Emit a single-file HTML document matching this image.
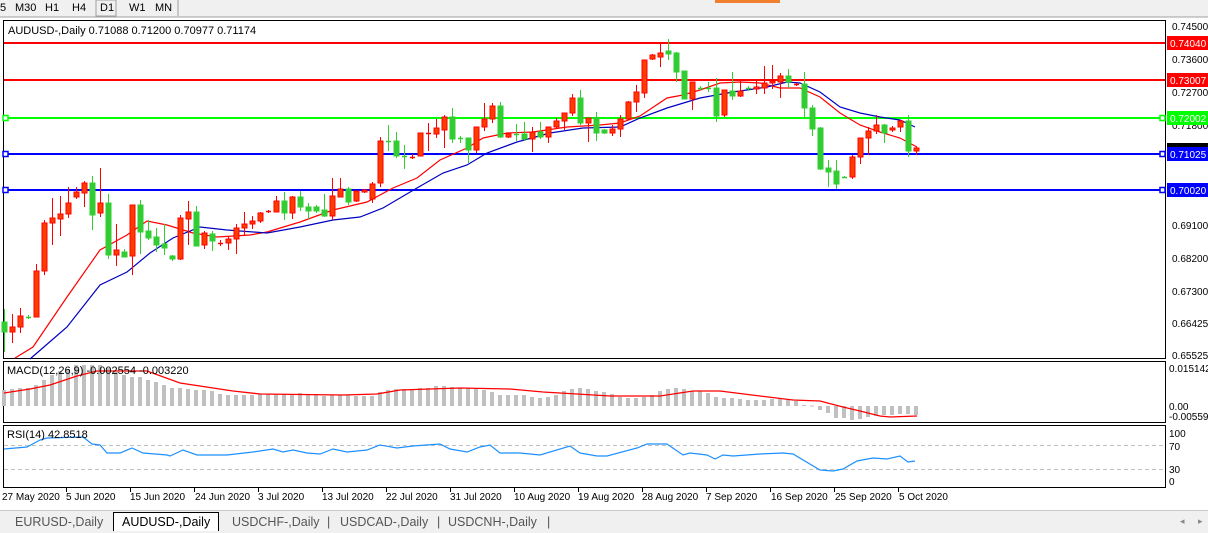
<!DOCTYPE html>
<html><head><meta charset="utf-8"><style>
html,body{margin:0;padding:0;background:#fff;width:1208px;height:533px;overflow:hidden;font-family:"Liberation Sans",Tahoma,sans-serif}
svg{display:block}
</style></head><body>
<svg id="s" width="1208" height="533" xmlns="http://www.w3.org/2000/svg" font-family="Liberation Sans, sans-serif">
<rect x="0" y="0" width="1208" height="17" fill="#f0f0f0"/>
<line x1="0" y1="17" x2="1208" y2="17" stroke="#a0a0a0"/>
<g font-size="11" fill="#000">
<text x="0" y="11">5</text><text x="15" y="11">M30</text><text x="45" y="11">H1</text><text x="72" y="11">H4</text>
<rect x="96" y="0" width="20" height="16" fill="none" stroke="#a0a0a0"/><text x="100" y="11">D1</text><text x="129" y="11">W1</text><text x="155" y="11">MN</text>
<line x1="178" y1="0" x2="178" y2="16" stroke="#a0a0a0"/>
</g>
<rect x="715" y="0" width="65" height="3" fill="#f08030"/>
<rect x="3.5" y="20.5" width="1162" height="338" fill="#fff" stroke="#000"/>
<rect x="3.5" y="361.5" width="1162" height="61" fill="#fff" stroke="#000"/>
<rect x="3.5" y="425.5" width="1162" height="62" fill="#fff" stroke="#000"/>
<g id="g"></g>
<text x="8" y="34" font-size="11">AUDUSD-,Daily  0.71088 0.71200 0.70977 0.71174</text>
<text x="7" y="374" font-size="11">MACD(12,26,9) -0.002554 -0.003220</text>
<text x="7" y="438" font-size="11">RSI(14) 42.8518</text>
<g font-size="10" fill="#000" id="ax">
<text x="1172" y="30">0.74500</text><text x="1172" y="63">0.73600</text><text x="1172" y="96">0.72700</text>
<text x="1172" y="129">0.71800</text><text x="1172" y="229">0.69100</text><text x="1172" y="262">0.68200</text>
<text x="1172" y="295">0.67300</text><text x="1172" y="327">0.66425</text><text x="1172" y="359">0.65525</text>
<text x="1169" y="372">0.015142</text><text x="1169" y="410">0.00</text><text x="1169" y="420">-0.005595</text>
<text x="1169" y="437">100</text><text x="1169" y="450">70</text><text x="1169" y="473">30</text><text x="1169" y="485">0</text>
</g>
<g font-size="10" fill="#fff">
<rect x="1167" y="143" width="41" height="8" fill="#000"/>
<rect x="1167" y="36" width="41" height="14" fill="#ff0000"/><text x="1170" y="47">0.74040</text>
<rect x="1167" y="73" width="41" height="14" fill="#ff0000"/><text x="1170" y="84">0.73007</text>
<rect x="1167" y="111" width="41" height="14" fill="#00ff00"/><text x="1170" y="122">0.72002</text>
<rect x="1167" y="147" width="41" height="14" fill="#0000ff"/><text x="1170" y="158">0.71025</text>
<rect x="1167" y="183" width="41" height="14" fill="#0000ff"/><text x="1170" y="194">0.70020</text>
</g>
<g font-size="10" fill="#000">
<text x="2" y="500">27 May 2020</text><text x="66" y="500">5 Jun 2020</text><text x="130" y="500">15 Jun 2020</text>
<text x="195" y="500">24 Jun 2020</text><text x="258" y="500">3 Jul 2020</text><text x="322" y="500">13 Jul 2020</text>
<text x="386" y="500">22 Jul 2020</text><text x="450" y="500">31 Jul 2020</text><text x="514" y="500">10 Aug 2020</text>
<text x="578" y="500">19 Aug 2020</text><text x="642" y="500">28 Aug 2020</text><text x="706" y="500">7 Sep 2020</text>
<text x="771" y="500">16 Sep 2020</text><text x="835" y="500">25 Sep 2020</text><text x="899" y="500">5 Oct 2020</text>
</g>
<rect x="0" y="510" width="1208" height="23" fill="#f0f0f0"/>
<line x1="0" y1="510.5" x2="1208" y2="510.5" stroke="#c8c8c8"/>
<rect x="113" y="512" width="106" height="19" fill="#fff"/>
<path d="M113.5 531V512.5H218.5V531" fill="none" stroke="#000"/>
<g font-size="12.5" fill="#555">
<text x="15" y="526">EURUSD-,Daily</text><text x="232" y="526">USDCHF-,Daily</text>
<text x="327" y="526">|</text><text x="340" y="526">USDCAD-,Daily</text><text x="437" y="526">|</text>
<text x="448" y="526">USDCNH-,Daily</text><text x="547" y="526">|</text>
</g>
<text x="122" y="526" font-size="12.5" fill="#000">AUDUSD-,Daily</text>
<text x="1180" y="524" font-size="9" fill="#888">◂</text><text x="1198" y="524" font-size="9" fill="#888">▸</text>
</svg>
<script>
var g=document.getElementById('g'),h='';
function L(x1,y1,x2,y2,c,w,d){h+='<line x1="'+x1+'" y1="'+y1+'" x2="'+x2+'" y2="'+y2+'" stroke="'+c+'" stroke-width="'+w+'"'+(d?' stroke-dasharray="'+d+'"':'')+'/>';}
L(4,445.5,1165,445.5,'#c0c0c0',1,'4,3');L(4,469.5,1165,469.5,'#c0c0c0',1,'4,3');
var mh=[390,389,388,388,385,380,375,371,369,365,365,365,365,368,372,375,377,377,380,382,385,388,388,389,390,390,391,394,395,395,395,395,394,394,394,394,394,393,394,394,396,395,395,395,396,396,396,392,390,389,389,390,388,388,386,386,387,388,388,389,390,392,395,395,395,395,397,398,397,395,391,389,388,389,391,392,394,397,398,398,397,395,391,389,388,389,391,391,393,397,398,398,399,400,400,400,399,399,400,401,405,405.5,410,413,418,418,420,419,417,416,415,415,414,414,415];
for(var i=0;i<mh.length;i++){var x=4+8*i,t=Math.min(mh[i],406),b=Math.max(mh[i],406);h+='<rect x="'+(x-2)+'" y="'+t+'" width="4" height="'+Math.max(b-t,1)+'" fill="#c0c0c0"/>';}
function P(pts,c,w){h+='<polyline fill="none" stroke="'+c+'" stroke-width="'+w+'" points="'+pts+'"/>';}
P('4,393 30,389 50,385 77,376 97,371 147,371 180,383 233,391 260,394 343,395 377,394 400,390 460,388 510,389 543,392 577,394 610,396 660,396 693,391 720,391 760,396 793,400 820,401 843,407 860,411 880,416 890,417 917,416','#ff0000',1.3);
P('4,449 27,447 40,440 47,438 83,437 92,444 100,445 107,453 120,453 132,448 143,453 167,455 170,456 183,450 197,455 227,455 253,452 273,449 283,452 293,450 307,453 320,454 333,449 347,452 367,450 380,445 397,448 413,446 440,444 450,449 467,452 480,447 490,445 500,453 520,453 540,455 570,446 580,453 597,456 607,456 637,448 647,444 667,444 683,455 690,453 707,455 715,459 723,455 733,456 760,454 783,453 793,454 820,470 833,471 843,469 857,461 873,458 887,459 900,456 908,462 915,461','#1e90ff',1.2);
L(4,43,1165,43,'#ff0000',2);L(4,80,1165,80,'#ff0000',2);L(4,118,1165,118,'#00ff00',2);L(4,154,1165,154,'#0000ff',2);L(4,190,1165,190,'#0000ff',2);
[[118,'#00ff00'],[154,'#0000ff'],[190,'#0000ff']].forEach(function(a){h+='<rect x="3" y="'+(a[0]-2.5)+'" width="5" height="5" fill="#fff" stroke="'+a[1]+'" stroke-width="1.5"/><rect x="1160" y="'+(a[0]-2.5)+'" width="5" height="5" fill="#fff" stroke="'+a[1]+'" stroke-width="1.5"/>';});
P('15,358 33,347 67,297 100,250 127,235 147,221 167,225 193,233 217,237 250,235 267,232 300,222 333,210 367,202 393,188 417,178 440,160 467,148 483,138 507,133 533,132 567,127 600,125 620,123 640,116 667,98 683,95 700,90 720,83 740,82 760,83 780,88 800,88 820,97 840,113 860,125 880,132 900,138 917,147','#ff0000',1.2);
P('30,359 67,327 100,285 127,272 150,253 173,238 200,227 227,230 267,233 300,227 333,220 360,217 383,208 417,188 443,173 467,165 487,153 517,142 550,133 583,128 620,127 640,118 667,108 700,98 733,92 767,87 787,82 800,83 820,92 840,107 860,113 880,117 900,120 915,127','#0000c0',1.2);
var C=[[0,322,332,309,352],[1,327,332,314,343],[1,316,327,308,333],[0,317,317,315,319],[1,271,317,264,317],[1,223,271,220,275],[1,218,223,198,245],[1,214,219,196,236],[1,203,214,187,218],[1,192,197,187,199],[1,183,193,181,207],[0,183,215,176,230],[1,203,213,168,217],[0,203,255,194,259],[1,250,255,224,266],[0,252,257,249,257],[1,205,256,205,275],[0,205,232,200,254],[0,231,238,220,240],[0,237,245,228,252],[0,244,248,224,255],[0,256,259,255,261],[1,218,259,215,260],[1,212,219,201,245],[0,212,246,206,246],[1,233,245,231,249],[0,234,241,231,251],[1,243,243,240,246],[1,239,243,236,250],[1,228,239,224,254],[1,224,228,212,236],[1,221,224,216,229],[1,213,221,212,223],[1,211,212,210,213],[1,201,212,196,212],[0,201,213,192,220],[1,197,213,196,219],[0,197,207,191,211],[0,207,211,203,219],[0,207,211,205,213],
[0,210,216,194,217],[1,196,216,178,220],[1,189,197,178,197],[0,189,202,187,205],[1,191,201,191,202],[1,190,192,189,193],[1,184,199,182,203],[1,141,183,137,187],[0,141,141,125,151],[0,141,156,132,158],[0,156,157,145,169],[1,157,157,154,159],[1,133,156,133,156],[1,133,133,123,151],[1,128,134,119,138],[1,117,130,115,148],[0,117,139,108,143],[0,138,138,136,143],[0,138,150,138,163],[1,127,150,127,153],[1,119,127,103,131],[1,106,119,103,123],[0,106,137,102,138],[1,134,137,133,138],[0,134,134,124,141],[0,134,139,122,141],[1,132,139,127,152],[0,132,137,122,139],[1,127,137,127,143],[1,121,127,118,128],[1,113,121,113,130],[1,98,113,94,116],[0,98,123,90,125],[1,118,123,118,142],[0,118,133,112,141],[0,130,133,129,134],[1,129,133,125,136],[1,119,129,115,137],[1,102,119,101,119],[1,92,102,85,112],
[1,60,93,60,98],[1,55,59,54,60],[1,53,57,43,67],[0,51,54,39,60],[0,53,72,52,82],[0,71,99,71,99],[1,82,99,82,110],[0,88,88,86,90],[0,88,88,82,92],[0,88,116,78,122],[1,90,115,90,117],[0,91,96,72,100],[1,91,96,79,97],[0,88,88,86,91],[1,87,89,80,94],[1,83,88,66,94],[1,81,83,65,89],[1,76,82,73,98],[0,76,82,69,88],[1,84,84,83,86],[0,84,108,72,117],[0,108,129,105,136],[0,128,169,127,170],[0,168,172,160,187],[0,171,184,160,189],[0,177,177,176,178],[1,157,177,155,179],[1,138,157,138,164],[1,131,138,127,155],[1,125,131,115,134],[0,125,133,124,143],[1,128,130,126,132],[1,121,127,120,132],[0,121,151,115,157],[1,148,151,147,155]];
for(var i=0;i<C.length;i++){var c=C[i],x=4+8*i,col=c[0]?'#ff0000':'#32cd32',fill=c[0]?'#ff3c00':'#32cd32';
L(x+.5,c[3],x+.5,c[4],col,1);
if(c[2]-c[1]<1.5){L(x-2,c[1]+.5,x+3,c[1]+.5,col,1.5);}
else h+='<rect x="'+(x-2)+'" y="'+c[1]+'" width="5" height="'+(c[2]-c[1])+'" fill="'+fill+'" stroke="'+col+'" stroke-width="1"/>';}
for(var k=0;k<14;k++){L(66+64*k+.5,488,66+64*k+.5,492,'#000',1);}
g.innerHTML=h;
</script>
</body></html>
